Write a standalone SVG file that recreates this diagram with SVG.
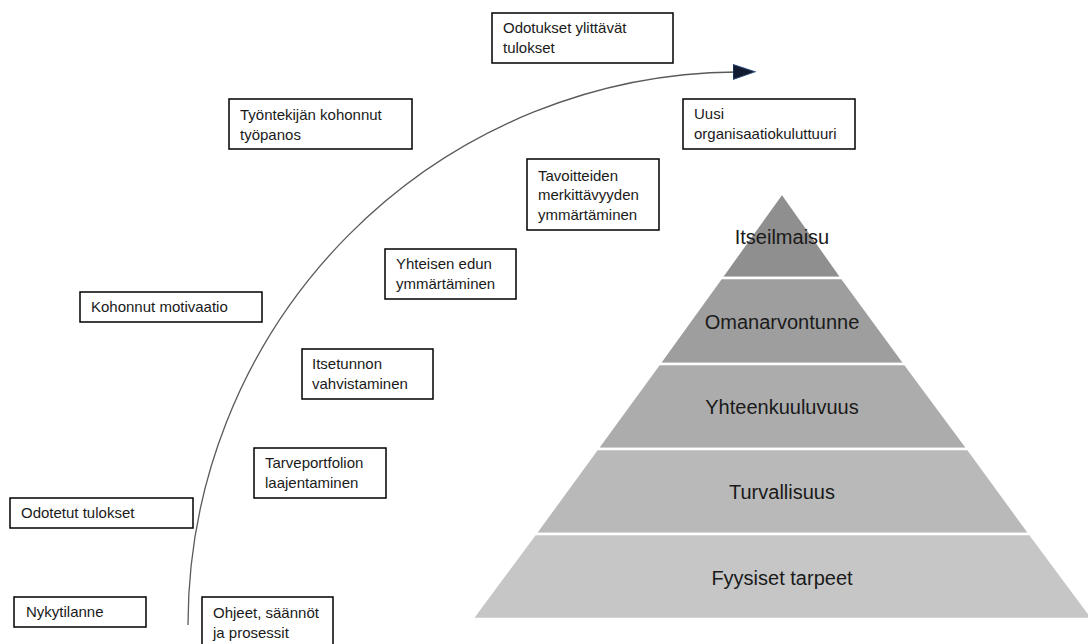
<svg xmlns="http://www.w3.org/2000/svg" width="1088" height="644" viewBox="0 0 1088 644">
  <defs>
    <style>
      .box rect { fill: #ffffff; stroke: #000000; stroke-width: 1.5; }
      .box text { font-family: "Liberation Sans", Arial, sans-serif; font-size: 15px; fill: #1a1a1a; }
      .layer polygon { stroke: #ffffff; stroke-width: 2.5; }
      .layer text { font-family: "Liberation Sans", Arial, sans-serif; font-size: 20px; fill: #1a1a1a; text-anchor: middle; }
      .curve { fill: none; stroke: #5a5a5a; stroke-width: 1.3; }
    </style>
    <marker id="arrowhead" markerUnits="userSpaceOnUse" markerWidth="26" markerHeight="18" refX="3" refY="8" orient="auto">
      <polygon points="0,0.5 22,8 0,15.5" fill="#111a2e" stroke="#2c4a7c" stroke-width="1"/>
    </marker>
  </defs>

  <rect width="1088" height="644" fill="#ffffff"/>

  <!-- Need pyramid -->
  <g id="pyramid">
    <g id="layer-itseilmaisu" class="layer">
      <polygon points="782,193 842,278 721,278" fill="#8f8f8f"/>
      <text x="782" y="244">Itseilmaisu</text>
    </g>
    <g id="layer-omanarvontunne" class="layer">
      <polygon points="721,278 842,278 905,364 659,364" fill="#9e9e9e"/>
      <text x="782" y="329">Omanarvontunne</text>
    </g>
    <g id="layer-yhteenkuuluvuus" class="layer">
      <polygon points="659,364 905,364 968,449 597,449" fill="#acacac"/>
      <text x="782" y="414">Yhteenkuuluvuus</text>
    </g>
    <g id="layer-turvallisuus" class="layer">
      <polygon points="597,449 968,449 1030,534 535,534" fill="#b9b9b9"/>
      <text x="782" y="499">Turvallisuus</text>
    </g>
    <g id="layer-fyysiset" class="layer">
      <polygon points="535,534 1030,534 1093,619 472,619" fill="#c6c6c6"/>
      <text x="782" y="585">Fyysiset tarpeet</text>
    </g>
  </g>

  <!-- Development curve -->
  <g id="connectors">
    <path class="curve" d="M188,625 A552,553 0 0 1 736,72" marker-end="url(#arrowhead)"/>
  </g>

  <!-- Label boxes -->
  <g id="n-odotukset-ylittavat" class="box">
    <rect x="492" y="13" width="181" height="50"/>
    <text x="503" y="33">Odotukset ylittävät</text>
    <text x="503" y="53">tulokset</text>
  </g>
  <g id="n-uusi-kulttuuri" class="box">
    <rect x="683" y="99" width="172" height="50"/>
    <text x="694" y="119">Uusi</text>
    <text x="694" y="139">organisaatiokuluttuuri</text>
  </g>
  <g id="n-tyopanos" class="box">
    <rect x="229" y="99" width="183" height="50"/>
    <text x="240" y="120">Työntekijän kohonnut</text>
    <text x="240" y="140">työpanos</text>
  </g>
  <g id="n-tavoitteiden" class="box">
    <rect x="527" y="159" width="132" height="71"/>
    <text x="538" y="181">Tavoitteiden</text>
    <text x="538" y="200">merkittävyyden</text>
    <text x="538" y="220">ymmärtäminen</text>
  </g>
  <g id="n-yhteisen-edun" class="box">
    <rect x="385" y="249" width="131" height="50"/>
    <text x="396" y="269">Yhteisen edun</text>
    <text x="396" y="289">ymmärtäminen</text>
  </g>
  <g id="n-motivaatio" class="box">
    <rect x="80" y="292" width="182" height="30"/>
    <text x="91" y="312">Kohonnut motivaatio</text>
  </g>
  <g id="n-itsetunto" class="box">
    <rect x="302" y="349" width="131" height="50"/>
    <text x="312" y="369">Itsetunnon</text>
    <text x="312" y="389">vahvistaminen</text>
  </g>
  <g id="n-tarveportfolio" class="box">
    <rect x="254" y="448" width="132" height="50"/>
    <text x="265" y="468">Tarveportfolion</text>
    <text x="265" y="488">laajentaminen</text>
  </g>
  <g id="n-odotetut" class="box">
    <rect x="10" y="498" width="183" height="30"/>
    <text x="21" y="518">Odotetut tulokset</text>
  </g>
  <g id="n-nykytilanne" class="box">
    <rect x="14" y="597" width="132" height="30"/>
    <text x="26" y="617">Nykytilanne</text>
  </g>
  <g id="n-ohjeet" class="box">
    <rect x="202" y="597" width="131" height="55"/>
    <text x="213" y="618">Ohjeet, säännöt</text>
    <text x="213" y="638">ja prosessit</text>
  </g>
</svg>
